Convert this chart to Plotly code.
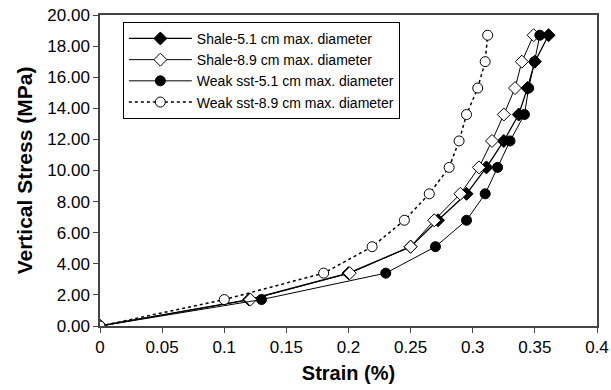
import plotly.graph_objects as go

stress = [0, 1.7, 3.4, 5.1, 6.8, 8.5, 10.2, 11.9, 13.6, 15.3, 17.0, 18.7]

shale_51_x = [0, 0.12, 0.20, 0.25, 0.272, 0.295, 0.311, 0.325, 0.337, 0.344, 0.350, 0.361]
shale_89_x = [0, 0.121, 0.201, 0.25, 0.269, 0.290, 0.305, 0.3155, 0.325, 0.334, 0.3395, 0.349]
weak_51_x = [0, 0.130, 0.230, 0.270, 0.295, 0.310, 0.320, 0.330, 0.3416, 0.345, 0.3497, 0.354]
weak_89_x = [0, 0.100, 0.180, 0.219, 0.245, 0.265, 0.281, 0.289, 0.295, 0.304, 0.310, 0.312]

names = ["Shale-5.1 cm max. diameter", "Shale-8.9 cm max. diameter",
         "Weak sst-5.1 cm max. diameter", "Weak sst-8.9 cm max. diameter"]

x_ticks = [0, 0.05, 0.1, 0.15, 0.2, 0.25, 0.3, 0.35, 0.4]
x_tick_labels = ["0", "0.05", "0.1", "0.15", "0.2", "0.25", "0.3", "0.35", "0.4"]
y_ticks = [0, 2, 4, 6, 8, 10, 12, 14, 16, 18, 20]

FONT = "Liberation Sans, Arial, sans-serif"

fig = go.Figure()
fig.add_trace(go.Scatter(
    x=shale_51_x, y=stress, name=names[0], mode="lines+markers",
    line=dict(color="black", width=1.3),
    marker=dict(symbol="diamond", size=10, color="black", line=dict(color="black", width=1))))
fig.add_trace(go.Scatter(
    x=shale_89_x, y=stress, name=names[1], mode="lines+markers",
    line=dict(color="black", width=1),
    marker=dict(symbol="diamond", size=10, color="white", line=dict(color="black", width=1))))
fig.add_trace(go.Scatter(
    x=weak_51_x, y=stress, name=names[2], mode="lines+markers",
    line=dict(color="black", width=1),
    marker=dict(symbol="circle", size=10, color="black", line=dict(color="black", width=1))))
fig.add_trace(go.Scatter(
    x=weak_89_x, y=stress, name=names[3], mode="lines+markers",
    line=dict(color="black", width=1.5, dash="dot"),
    marker=dict(symbol="circle", size=10, color="white", line=dict(color="black", width=1))))

fig.update_layout(
    width=611, height=390,
    margin=dict(l=100, r=14, t=15, b=64),
    paper_bgcolor="white", plot_bgcolor="white",
    font=dict(family=FONT, color="black"),
    showlegend=True,
    legend=dict(
        x=0.046, y=0.978, xanchor="left", yanchor="top",
        bordercolor="black", borderwidth=1, bgcolor="white",
        font=dict(size=14, family=FONT), tracegroupgap=0,
        itemwidth=63,
    ),
    xaxis=dict(
        range=[0, 0.4], tickvals=x_ticks, ticktext=x_tick_labels, automargin=False,
        showgrid=False, zeroline=False, showline=True, linecolor="#444", linewidth=1.5,
        mirror=True, ticks="outside", ticklen=5, tickcolor="#444",
        tickfont=dict(size=17, family=FONT),
        title=dict(text="<b>Strain (%)</b>", font=dict(size=20, family=FONT), standoff=10),
    ),
    yaxis=dict(
        range=[0, 20], tickvals=y_ticks, tickformat=".2f", automargin=False,
        showgrid=False, zeroline=False, showline=True, linecolor="#444", linewidth=1.5,
        mirror=True, ticks="outside", ticklen=5, tickcolor="#444",
        tickfont=dict(size=17, family=FONT),
        title=dict(text="<b>Vertical Stress (MPa)</b>", font=dict(size=21, family=FONT), standoff=9),
    ),
)

fig.write_html("out.html")
